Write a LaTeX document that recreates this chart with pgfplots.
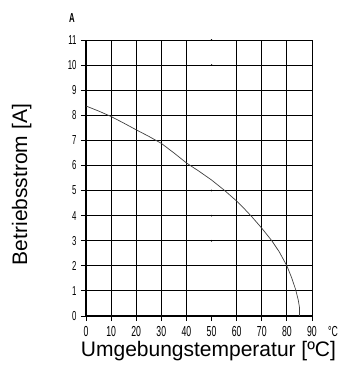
\documentclass[border=0pt]{standalone}
\usepackage{fontspec}
\setmainfont{Liberation Sans}
\newfontfamily\xtickfont[FakeStretch=0.6, Scale=1.45]{Liberation Sans}
\newfontfamily\ytickfont[FakeStretch=0.6, Scale=1.3]{Liberation Sans}
\usepackage{pgfplots}
\pgfplotsset{compat=1.18}
\begin{document}
\begin{tikzpicture}
\begin{axis}[
  scale only axis, width=226pt, height=276pt,
  xmin=0, xmax=90, ymin=0, ymax=11,
  axis lines=left, axis line style={line width=1.8pt, -},
  xtick={0,10,20,30,40,60,70,80,90},
  extra x ticks={50}, extra x tick style={xmajorgrids=false},
  ytick={0,1,...,11},
  grid=major, major grid style={black, line width=0.9pt},
  tick style={black, line width=0.9pt}, tick align=outside, major tick length=5pt,
  xticklabel style={font=\xtickfont, yshift=-2pt},
  yticklabel style={font=\ytickfont, xshift=-1pt},
  /pgf/number format/assume math mode=true,
  xlabel={Umgebungstemperatur [ºC]}, ylabel={Betriebsstrom [A]},
  label style={font=\fontsize{21}{24}\selectfont},
  xlabel style={at={(axis description cs:0.542,-0.145)}, anchor=base},
  ylabel style={at={(axis description cs:-0.285,0.476)}, anchor=center, rotate=0},
  clip=false,
]
\coordinate (o) at (rel axis cs:0,0);
\addplot[black!75, line width=0.7pt] coordinates {
 (0,8.37) (5,8.17) (10,7.95) (15,7.69) (20,7.42) (25,7.16) (30,6.88) (35,6.5) (40,6.1)
 (45,5.77) (50,5.42) (55,5.02) (60,4.58) (63,4.28) (66,3.96) (70,3.5) (72,3.25) (74,3.0)
 (77,2.55) (80,2.0) (82,1.5) (83.5,1.05) (84.5,0.65) (85,0.35) (85,0)
};
\addplot[only marks, mark=*, mark size=0.6pt, black] coordinates {(50,11) (50,10) (50,5) (50,4) (50,3)};
\node[font=\ytickfont\bfseries] at ([shift={(-14pt,22pt)}]rel axis cs:0,1) {A};
\node[font=\xtickfont] at ([shift={(21pt,-16pt)}]rel axis cs:1,0) {°C};
\end{axis}
\pgfresetboundingbox
\path ([shift={(-86pt,-58pt)}]o) rectangle ([shift={(263pt,316pt)}]o);
\end{tikzpicture}
\end{document}
